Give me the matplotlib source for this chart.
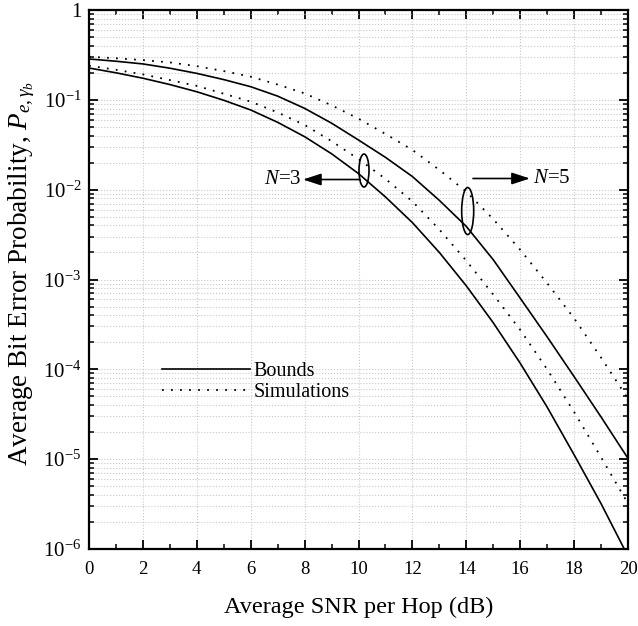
import math
import matplotlib
matplotlib.use('Agg')
import matplotlib.pyplot as plt
from matplotlib.patches import Ellipse
from matplotlib.ticker import FixedLocator, FuncFormatter, NullFormatter

plt.rcParams['font.family'] = ['Liberation Serif', 'DejaVu Serif']
plt.rcParams['mathtext.fontset'] = 'custom'
plt.rcParams['mathtext.rm'] = 'Liberation Serif'
plt.rcParams['mathtext.it'] = 'Liberation Serif:italic'

snr = list(range(0, 21))
# N=3 bound / simulation, N=5 bound / simulation
bound3 = [0.226, 0.200, 0.174, 0.148, 0.123, 0.0989, 0.0771, 0.0562, 0.0389, 0.0251, 0.0151,
          8.3e-3, 4.3e-3, 2.0e-3, 8.5e-4, 3.3e-4, 1.17e-4, 3.8e-5, 1.12e-5, 3.2e-6, 8.3e-7]
sim3 = [0.240, 0.216, 0.192, 0.166, 0.143, 0.117, 0.0955, 0.0724, 0.0525, 0.0347, 0.0219,
        0.0132, 7.4e-3, 3.6e-3, 1.62e-3, 6.8e-4, 2.75e-4, 1.0e-4, 3.35e-5, 1.05e-5, 3.2e-6]
bound5 = [0.285, 0.269, 0.251, 0.225, 0.197, 0.168, 0.140, 0.110, 0.0804, 0.055, 0.0357,
          0.0229, 0.014, 7.6e-3, 3.9e-3, 1.66e-3, 6.2e-4, 2.3e-4, 8.3e-5, 2.95e-5, 1.02e-5]
sim5 = [0.302, 0.29, 0.277, 0.261, 0.237, 0.209, 0.181, 0.148, 0.118, 0.087, 0.0617,
        0.0417, 0.0277, 0.0166, 9.5e-3, 4.7e-3, 2.14e-3, 9.1e-4, 3.7e-4, 1.35e-4, 4.7e-5]

yticks = [1e-6, 1e-5, 1e-4, 1e-3, 1e-2, 1e-1, 1]


def ylab(v, pos):
    if v >= 1:
        return '1'
    return r'$10^{%d}$' % round(math.log10(v))


fig = plt.figure(figsize=(6.38, 6.26), dpi=100)
ax = fig.add_axes([89/638, 1-549/626, 539/638, 539/626])

dot = (0, (1, 4))
l1, = ax.plot(snr, bound3, color='k', lw=1.2, label='Bounds')
ax.plot(snr, bound5, color='k', lw=1.2)
l2, = ax.plot(snr, sim3, color='k', lw=1.3, ls=dot, label='Simulations')
ax.plot(snr, sim5, color='k', lw=1.3, ls=dot)

ax.set_yscale('log')
ax.set_xlim(0, 20)
ax.set_ylim(1e-6, 1)
ax.xaxis.set_major_locator(FixedLocator(range(0, 21, 2)))
ax.xaxis.set_minor_locator(FixedLocator(range(1, 20, 2)))
ax.yaxis.set_major_locator(FixedLocator(yticks))
ax.yaxis.set_major_formatter(FuncFormatter(ylab))
ax.yaxis.set_minor_formatter(NullFormatter())

ax.grid(True, which='major', axis='x', color='#c8c8c8', ls=':', lw=0.8)
ax.grid(True, which='both', axis='y', color='#c8c8c8', ls=':', lw=0.8)
ax.set_axisbelow(True)

for s in ax.spines.values():
    s.set_linewidth(1.6)
ax.tick_params(which='both', direction='in', top=True, right=True)
ax.tick_params(which='major', length=6.5, width=1.3)
ax.tick_params(which='minor', length=3.5, width=1.1)
ax.tick_params(axis='x', pad=9, labelsize=13.5)
ax.tick_params(axis='y', pad=5.5, labelsize=15)

ax.set_xlabel('Average SNR per Hop (dB)', fontsize=17.5)
ax.set_ylabel(r'Average Bit Error Probability, $P_{e,\gamma_b}$', fontsize=19.5)
ax.xaxis.set_label_coords(0.5, -0.088)
ax.yaxis.set_label_coords(-0.097, 0.511)

ax.legend(handles=[l1, l2], loc='center left', bbox_to_anchor=(0.135, 0.31), frameon=False,
          fontsize=14.5, handlelength=4.37, handletextpad=0.2, labelspacing=0.1,
          borderpad=0, borderaxespad=0)

# annotations
ax.add_patch(Ellipse((0.5102, 0.7022), 0.0186, 0.0612, transform=ax.transAxes,
                     fill=False, lw=1.2, color='k'))
ax.add_patch(Ellipse((0.7026, 0.627), 0.0223, 0.0872, transform=ax.transAxes,
                     fill=False, lw=1.2, color='k'))
aprops = dict(arrowstyle='-|>,head_length=0.55,head_width=0.18', mutation_scale=20,
              lw=1.2, color='k', shrinkA=0, shrinkB=0)
ax.annotate('', xy=(0.397, 0.6855), xytext=(0.5028, 0.6855), xycoords='axes fraction',
            arrowprops=aprops)
ax.annotate('', xy=(0.818, 0.6874), xytext=(0.7124, 0.6874), xycoords='axes fraction',
            arrowprops=aprops)
ax.text(0.394, 0.6855, r'$N$=3', transform=ax.transAxes, ha='right', va='center', fontsize=15)
ax.text(0.8237, 0.6874, r'$N$=5', transform=ax.transAxes, ha='left', va='center', fontsize=15)

fig.savefig('out.png', dpi=100)
